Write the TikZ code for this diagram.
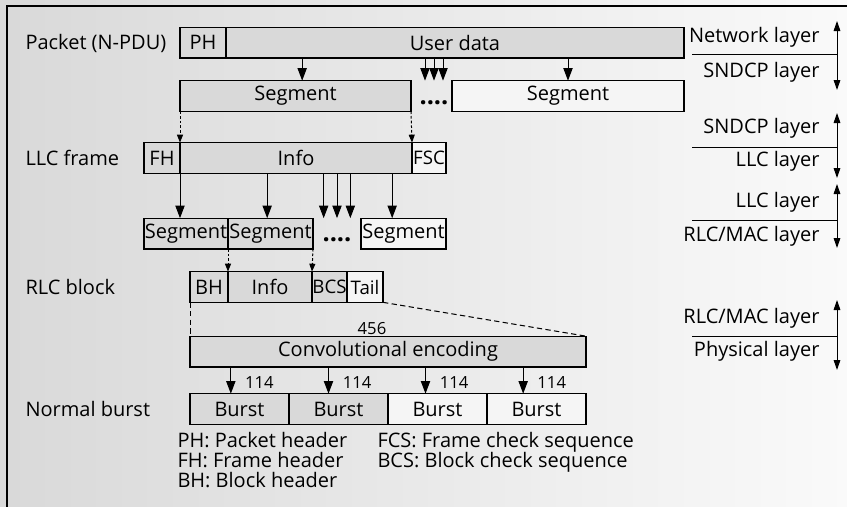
\documentclass[tikz,border=0pt]{standalone}
\usepackage{fontspec}
\setmainfont{Open Sans}
\usetikzlibrary{arrows.meta,positioning,calc}

\tikzset{every picture/.style={line width=0.75pt}}

\begin{document}
\begin{tikzpicture}[x=0.75pt,y=0.75pt,yscale=-1,xscale=1,
  font=\fontsize{15}{18}\selectfont,
  blk/.style={draw, line width=1pt, fill=gray!30, inner sep=0pt, outer sep=0pt, minimum height=23pt},
  lite/.style={blk, fill=gray!8},
  small/.style={font=\fontsize{14}{16}\selectfont},
  num/.style={font=\fontsize{12.5}{14}\selectfont},
  dotsnode/.style={font=\fontsize{19}{20}\selectfont\bfseries, inner sep=0pt},
  rowlbl/.style={anchor=west, inner sep=0pt},
  lyrlbl/.style={anchor=east, inner sep=0pt},
  arr/.style={-{Triangle[length=9.5pt,width=7pt]}},
  darr/.style={dash pattern=on 2pt off 1.5pt, -{Triangle[length=6pt,width=4.5pt]}},
  dline/.style={dash pattern=on 4pt off 2.5pt},
  lyr/.style={{Triangle[length=7.5pt,width=5pt]}-{Triangle[length=7.5pt,width=5pt]}}]
\useasboundingbox (0,0) rectangle (847,507);

%Background and frame
\shade[left color=gray!30, middle color=gray!22, right color=gray!4] (0,0) rectangle (847,507);
\draw[line width=1.5pt] (847,6) -- (7,6) -- (7,507);

%Row labels
\node[rowlbl] (lpkt) at (25,43) {Packet (N-PDU)};
\node[rowlbl] (lllc) at (25,158) {LLC frame};
\node[rowlbl] (lrlc) at (25,287) {RLC block};
\node[rowlbl] (lnb) at (25,409) {Normal burst};

%Packet
\node[blk, minimum width=34.5pt, anchor=west] (ph) at (180,42.5) {PH};
\node[blk, minimum width=343.5pt, right=0pt of ph] (ud) {User data};

%SNDCP segments
\node[blk, minimum width=173.25pt, anchor=west] (seg1) at (180,96) {Segment};
\node[lite, minimum width=174pt, anchor=west] (seg2) at (452,96) {Segment};
\node[dotsnode] (dots1) at (434,103) {....};

%LLC frame
\node[blk, minimum width=27pt, anchor=west] (fh) at (144,158) {FH};
\node[blk, minimum width=174pt, right=0pt of fh] (info) {Info};
\node[lite, small, minimum width=25.5pt, right=0pt of info] (fsc) {FSC};

%LLC segments
\node[blk, minimum width=63pt, anchor=west] (sa) at (144,233.5) {Segment};
\node[blk, minimum width=63.75pt, right=0pt of sa] (sb) {Segment};
\node[lite, minimum width=63.75pt, anchor=west] (sc) at (361,233.5) {Segment};
\node[dotsnode] (dots2) at (337,240) {....};

%RLC block
\node[blk, minimum width=28.5pt, anchor=west] (bh) at (190,287) {BH};
\node[blk, minimum width=63pt, right=0pt of bh] (rinfo) {Info};
\node[blk, small, minimum width=26.25pt, right=0pt of rinfo] (bcs) {BCS};
\node[lite, small, minimum width=27pt, right=0pt of bcs] (tail) {Tail};

%Convolutional encoding
\node[blk, minimum width=297pt, anchor=west] (conv) at (190,351.5) {Convolutional encoding};
\node[num, anchor=south, inner sep=1pt] (n456) at ([xshift=-12pt]conv.north) {456};

%Bursts
\node[blk, minimum width=74.25pt, anchor=west] (b1) at (190,409) {Burst};
\node[blk, minimum width=74.25pt, right=0pt of b1] (b2) {Burst};
\node[lite, minimum width=74.25pt, right=0pt of b2] (b3) {Burst};
\node[lite, minimum width=74.25pt, right=0pt of b3] (b4) {Burst};

%Legend
\node[anchor=north west, align=left, inner sep=0pt, font=\fontsize{15}{15}\selectfont] (legl) at (177,432) {PH: Packet header\\FH: Frame header\\BH: Block header};
\node[anchor=north west, align=left, inner sep=0pt, font=\fontsize{15}{15}\selectfont] (legr) at (377,432) {FCS: Frame check sequence\\BCS: Block check sequence};

%Packet to segments
\coordinate (p1) at ([xshift=5pt]seg1.north);
\draw[arr] (p1 |- ud.south) -- (p1);
\coordinate (p2) at (dots1 |- seg2.north);
\foreach \dx in {-6.75,0,6.75}
  \draw[arr] ($(p2 |- ud.south)+(\dx pt,0)$) -- ($(p2)+(\dx pt,0)$);
\draw[arr] (seg2.north |- ud.south) -- (seg2.north);

%Segment to LLC frame
\draw[darr] (seg1.south west) -- (fh.north east);
\draw[darr] (seg1.south east) -- (info.north east);

%LLC frame to segments
\draw[arr] (fh.south east) -- (fh.south east |- sa.north);
\coordinate (q1) at ([xshift=-2.5pt]sb.north);
\draw[arr] (q1 |- info.south) -- (q1);
\coordinate (q2) at (dots2 |- sa.north);
\foreach \dx in {-10,0,10}
  \draw[arr] ($(q2 |- info.south)+(\dx pt,0)$) -- ($(q2)+(\dx pt,0)$);
\coordinate (q3) at ([xshift=-8.5pt]sc.north);
\draw[arr] (q3 |- info.south) -- (q3);

%Segments to RLC block
\draw[darr] (sa.south east) -- (bh.north east);
\draw[darr] (sb.south east) -- (rinfo.north east);

%RLC block to encoding
\draw[dline] (bh.south west) -- (conv.north west);
\draw[dline] (tail.south east) -- (conv.north east);

%Encoding to bursts
\coordinate (r1) at ([xshift=-6.5pt]b1.north);
\coordinate (r2) at ([xshift=-7.5pt]b2.north);
\coordinate (r3) at ([xshift=-9pt]b3.north);
\coordinate (r4) at ([xshift=-10pt]b4.north);
\draw[arr] (r1 |- conv.south) -- (r1) node[num, pos=0.6, right=7pt] (m1) {114};
\draw[arr] (r2 |- conv.south) -- (r2) node[num, pos=0.6, right=7pt] (m2) {114};
\draw[arr] (r3 |- conv.south) -- (r3) node[num, pos=0.6, right=7pt] (m3) {114};
\draw[arr] (r4 |- conv.south) -- (r4) node[num, pos=0.6, right=7pt] (m4) {114};

%Layers
\node[lyrlbl] (nl) at (820,37) {Network layer};
\node[lyrlbl] (sn1) at (820,72) {SNDCP layer};
\coordinate (l1) at (692,54);
\coordinate (a1t) at (837,21);
\coordinate (a1b) at (837,90);
\draw (l1) -- (l1 -| a1t);
\draw[lyr] (a1t) -- (a1b);

\node[lyrlbl] (sn2) at (820,128) {SNDCP layer};
\node[lyrlbl] (llc1) at (820,161) {LLC layer};
\coordinate (l2) at (692,147);
\coordinate (a2t) at (837,113);
\coordinate (a2b) at (837,178);
\draw (l2) -- (l2 -| a2t);
\draw[lyr] (a2t) -- (a2b);

\node[lyrlbl] (llc2) at (820,202) {LLC layer};
\node[lyrlbl] (rm1) at (820,236) {RLC/MAC layer};
\coordinate (l3) at (692,220);
\coordinate (a3t) at (837,184);
\coordinate (a3b) at (837,248);
\draw (l3) -- (l3 -| a3t);
\draw[lyr] (a3t) -- (a3b);

\node[lyrlbl] (rm2) at (820,318) {RLC/MAC layer};
\node[lyrlbl] (phy) at (820,351) {Physical layer};
\coordinate (l4) at (692,336);
\coordinate (a4t) at (837,300);
\coordinate (a4b) at (837,370);
\draw (l4) -- (l4 -| a4t);
\draw[lyr] (a4t) -- (a4b);

\end{tikzpicture}
\end{document}
